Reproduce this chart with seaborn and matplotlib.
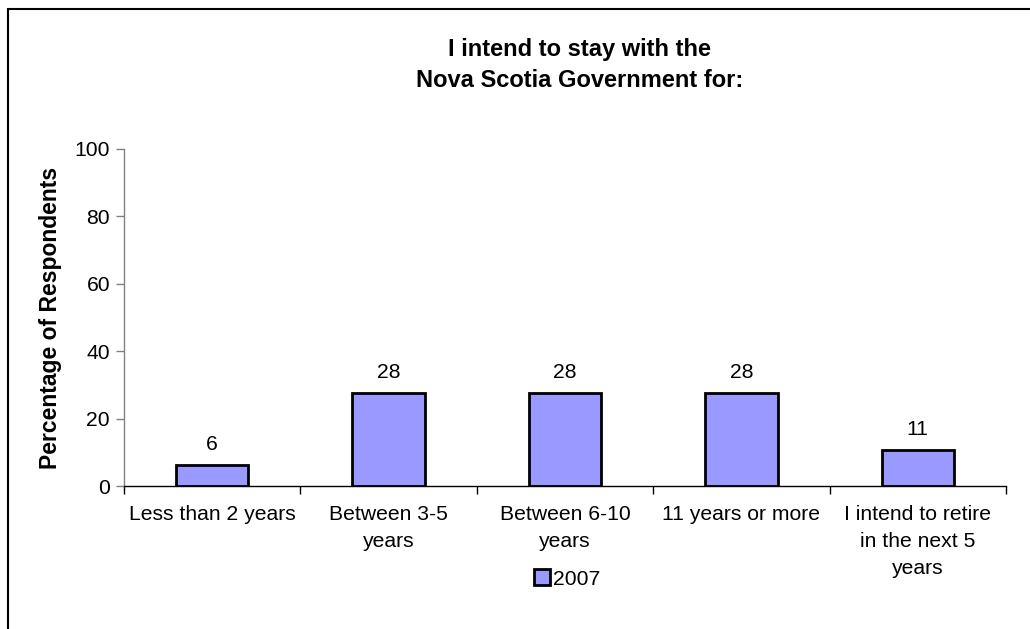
import pandas
import seaborn
import matplotlib.pyplot as plt
from matplotlib.patches import Rectangle
from matplotlib.ticker import FixedLocator


categories = ['Less than 2 years', 'Between 3-5\nyears', 'Between 6-10\nyears',
              '11 years or more', 'I intend to retire\nin the next 5\nyears']
values_2007 = [6.2, 27.6, 27.6, 27.6, 10.6]
series_name = '2007'


def run():
    data = pandas.DataFrame({'Category': categories, 'Percent': values_2007, 'Year': series_name})

    seaborn.set_style('white')
    plt.rcParams['font.family'] = ['Liberation Sans', 'DejaVu Sans']
    plt.rcParams['font.size'] = 15.2
    plt.rcParams['text.color'] = 'black'
    plt.rcParams['axes.labelcolor'] = 'black'
    plt.rcParams['xtick.color'] = 'black'
    plt.rcParams['ytick.color'] = 'black'

    fig = plt.figure(figsize=(10.3, 6.29), dpi=100)
    ax = fig.add_axes([124 / 1030, 1 - 486 / 629, 882 / 1030, 337 / 629])

    seaborn.barplot(data, x='Category', y='Percent', hue='Year', palette=['#9999FF'], saturation=1,
                    width=0.41, edgecolor='black', linewidth=2, ax=ax)

    ax.bar_label(ax.containers[0], fmt='%.0f', padding=8, fontsize=15.2)

    ax.set_ylim(0, 100)
    ax.set_yticks([0, 20, 40, 60, 80, 100])
    ax.set_xlim(-0.5, len(categories) - 0.5)
    ax.set_xlabel('')
    ax.set_ylabel('Percentage of Respondents', fontweight='bold', fontsize=16.5, labelpad=9)

    # category boundaries get the tick marks, labels sit in the middle
    ax.set_xticks(range(len(categories)))
    ax.set_xticklabels(categories, linespacing=1.52)
    ax.xaxis.set_minor_locator(FixedLocator([i - 0.5 for i in range(len(categories) + 1)]))
    ax.tick_params(axis='x', which='major', bottom=True, length=0, pad=14)
    ax.tick_params(axis='x', which='minor', bottom=True, length=6, width=1, color='black', direction='out')
    ax.tick_params(axis='y', left=True, length=6, width=1, color='#808080', labelcolor='black',
                   direction='out', pad=4)

    seaborn.despine(ax=ax)
    ax.spines['left'].set_color('#808080')
    ax.spines['bottom'].set_color('black')
    ax.spines['left'].set_linewidth(1)
    ax.spines['bottom'].set_linewidth(1)

    fig.text(580 / 1030, 1 - 65 / 629, 'I intend to stay with the\nNova Scotia Government for:',
             ha='center', va='center', fontweight='bold', fontsize=17, linespacing=1.45)

    ax.legend(loc='center', bbox_to_anchor=(567 / 1030, 1 - 579 / 629), bbox_transform=fig.transFigure,
              frameon=False, handlelength=0.75, handleheight=0.75, handletextpad=0.15, fontsize=15.2)

    fig.patches.append(Rectangle((8 / 1030, -0.1), 1.2, 1 - 9 / 629 + 0.1, transform=fig.transFigure,
                                 fill=False, edgecolor='black', linewidth=1.5, figure=fig))

    fig.savefig('out.png', dpi=100)


run()
